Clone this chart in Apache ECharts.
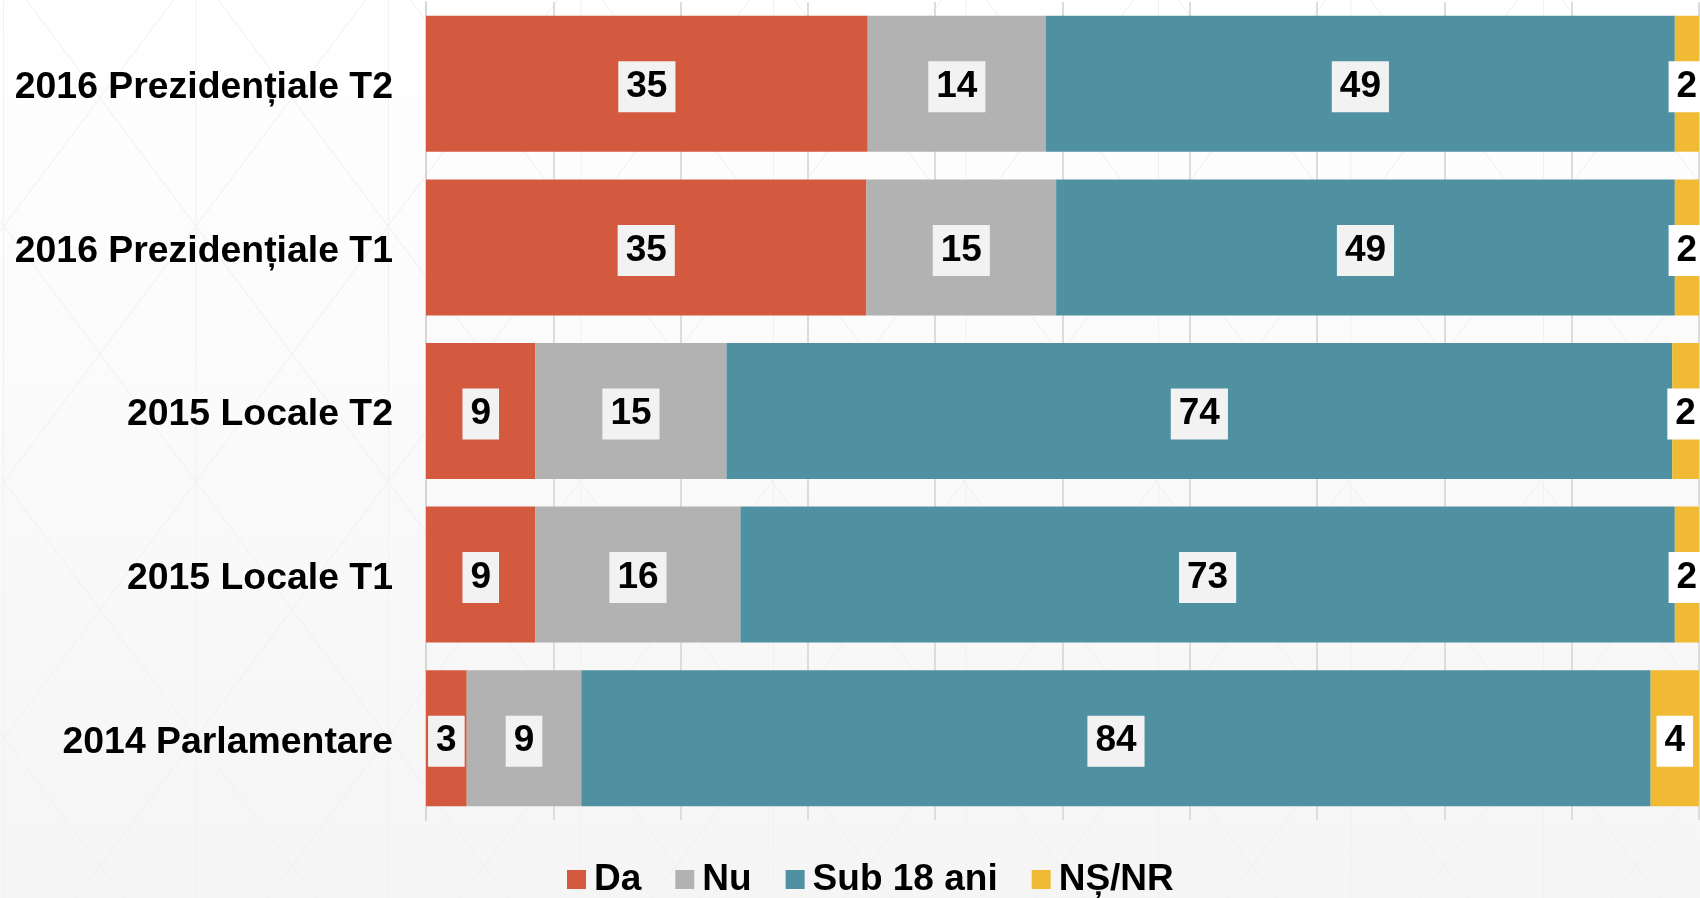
<!DOCTYPE html>
<html>
<head>
<meta charset="utf-8">
<script src="https://cdn.jsdelivr.net/npm/echarts@6/dist/echarts.min.js"></script>
<style>
html,body{margin:0;padding:0;background:#fff;}
#chart{width:1700px;height:898px;}
</style>
</head>
<body>
<div id="chart"></div>
<script>
const categories = ['2016 Prezidențiale T2', '2016 Prezidențiale T1', '2015 Locale T2', '2015 Locale T1', '2014 Parlamentare'];
const seriesNames = ['Da', 'Nu', 'Sub 18 ani', 'NȘ/NR'];
const da = [34.7, 34.6, 8.6, 8.6, 3.2];
const nu = [14.0, 14.9, 15.0, 16.1, 9.0];
const sub18 = [49.4, 48.6, 74.3, 73.4, 84.0];
const nsnr = [1.9, 1.9, 2.1, 1.9, 3.8];
const xTicks = { min: 0, max: 100, interval: 10 };

const colors = ['#D35A3F', '#B2B2B2', '#4F91A1', '#F0BA35'];
const FONT = '"Liberation Sans", Arial, Helvetica, sans-serif';

// faint decorative background lattice
const bgLines = [];
const W = 1700, H = 898, s = 4 / 3;
for (let n = -10; n <= 10; n++) {
  const c = 476.7 + 256 * n;
  bgLines.push({ type: 'line', silent: true, z: -10,
    shape: { x1: 0, y1: c, x2: W, y2: s * W + c },
    style: { stroke: '#efefef', lineWidth: 1 } });
  const d = 999.3 + 256 * n;
  bgLines.push({ type: 'line', silent: true, z: -10,
    shape: { x1: 0, y1: d, x2: W, y2: -s * W + d },
    style: { stroke: '#efefef', lineWidth: 1 } });
}
for (let k = 0; k < 10; k++) {
  const x = 3.5 + 192.5 * k;
  bgLines.push({ type: 'line', silent: true, z: -10,
    shape: { x1: x, y1: 0, x2: x, y2: H },
    style: { stroke: '#f1f1f1', lineWidth: 1 } });
}

function makeSeries(name, data, color, labelBg) {
  return {
    name: name,
    type: 'bar',
    stack: 'total',
    data: data,
    barWidth: 136,
    itemStyle: { color: color },
    label: {
      show: true,
      position: 'inside',
      offset: [0, 3],
      formatter: p => String(Math.round(p.value)),
      fontFamily: FONT,
      fontSize: 37,
      fontWeight: 'bold',
      color: '#000',
      backgroundColor: labelBg,
      padding: [7, 8, 7, 8],
      lineHeight: 37
    },
    emphasis: { disabled: true }
  };
}

const chart = echarts.init(document.getElementById('chart'), null, { renderer: 'canvas' });
chart.setOption({
  animation: false,
  backgroundColor: {
    type: 'linear', x: 0, y: 0, x2: 0, y2: 1,
    colorStops: [{ offset: 0, color: '#ffffff' }, { offset: 1, color: '#f5f5f5' }]
  },
  color: colors,
  graphic: bgLines,
  grid: { left: 426, right: 1, top: 2, bottom: 78, containLabel: false },
  legend: {
    data: seriesNames,
    left: 562,
    top: 856,
    icon: 'rect',
    itemWidth: 19,
    itemHeight: 19,
    itemGap: 34,
    textStyle: { fontFamily: FONT, fontSize: 37, fontWeight: 'bold', color: '#000', padding: [0, 0, 0, 3] }
  },
  xAxis: {
    type: 'value',
    min: xTicks.min,
    max: xTicks.max,
    interval: xTicks.interval,
    axisLabel: { show: false },
    axisLine: { show: false },
    axisTick: { show: false },
    splitLine: { show: true, lineStyle: { color: '#dcdcdc', width: 2 } }
  },
  yAxis: {
    type: 'category',
    inverse: true,
    data: categories,
    axisLine: { show: true, lineStyle: { color: '#d6d6d6', width: 2 } },
    axisTick: { show: false },
    axisLabel: { fontFamily: FONT, fontSize: 37.4, fontWeight: 'bold', color: '#000', margin: 33, verticalAlign: 'top', lineHeight: 8 }
  },
  series: [
    makeSeries(seriesNames[0], da, colors[0], '#f2f2f2'),
    makeSeries(seriesNames[1], nu, colors[1], '#f2f2f2'),
    makeSeries(seriesNames[2], sub18, colors[2], '#f2f2f2'),
    makeSeries(seriesNames[3], nsnr, colors[3], '#ffffff')
  ]
});
</script>
</body>
</html>
